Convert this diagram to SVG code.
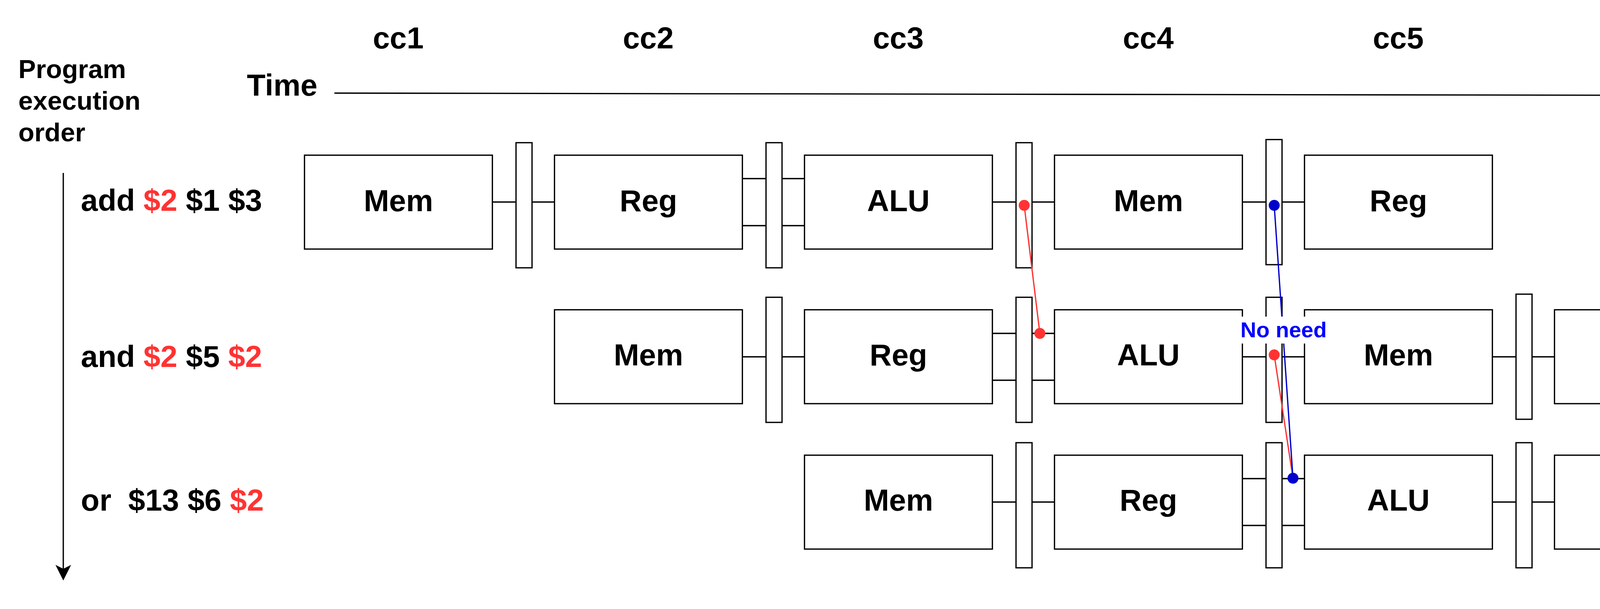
<svg xmlns="http://www.w3.org/2000/svg" width="5156" height="1560" viewBox="0 0 5156 1560">
<style>
text{font-family:"Liberation Sans",Arial,Helvetica,sans-serif;font-weight:bold;fill:#000;stroke:none}
.lbl{font-size:78px}
.box rect{fill:#fff;stroke:#000;stroke-width:3.3}
.box text{text-anchor:middle}
.latch rect{fill:#fff;stroke:#000;stroke-width:3.3}
.wire{stroke:#000;stroke-width:3.3;fill:none}
.red{fill:#FF3333}
.fw-red{stroke:#FF3333;stroke-width:3.3;fill:none}
.fw-blue{stroke:#0000CC;stroke-width:3.3;fill:none}
</style>
<defs>
<marker id="arr" markerUnits="userSpaceOnUse" markerWidth="40" markerHeight="40" viewBox="0 0 36 36" refX="9" refY="18" orient="auto">
<path d="M0,0 L36,18 L0,36 L9,18 Z" fill="#000"/>
</marker>
</defs>
<rect width="5156" height="1560" fill="#fff"/>

<g id="header">
<text class="lbl" x="1019.5" y="124" text-anchor="middle">cc1</text>
<text class="lbl" x="1659.5" y="124" text-anchor="middle">cc2</text>
<text class="lbl" x="2299.5" y="124" text-anchor="middle">cc3</text>
<text class="lbl" x="2939.5" y="124" text-anchor="middle">cc4</text>
<text class="lbl" x="3579.5" y="124" text-anchor="middle">cc5</text>
<text class="lbl" x="4219.5" y="124" text-anchor="middle">cc6</text>
<text class="lbl" x="4859.5" y="124" text-anchor="middle">cc7</text>
<text class="lbl" x="632" y="245">Time</text>
<text x="47" y="200" font-size="67">Program</text>
<text x="47" y="281" font-size="67">execution</text>
<text x="47" y="362" font-size="67">order</text>
</g>

<g id="instructions">
<text class="lbl" x="207" y="540">add <tspan class="red">$2</tspan> $1 $3</text>
<text class="lbl" x="207" y="940">and <tspan class="red">$2</tspan> $5 <tspan class="red">$2</tspan></text>
<text class="lbl" x="207" y="1308" xml:space="preserve">or  $13 $6 <tspan class="red">$2</tspan></text>
</g>

<g id="axes">
<line class="wire" x1="856" y1="238.5" x2="5054" y2="245.5" marker-end="url(#arr)"/>
<line class="wire" x1="162" y1="443" x2="162" y2="1457" marker-end="url(#arr)"/>
</g>

<!-- row 1 -->
<g id="r1-mem" class="box"><rect x="779.5" y="397.5" width="481" height="240.5"/><text class="lbl" x="1020" y="540.5">Mem</text></g>
<g id="r1-reg" class="box"><rect x="1419.5" y="397.5" width="481" height="240.5"/><text class="lbl" x="1660" y="540.5">Reg</text></g>
<g id="r1-alu" class="box"><rect x="2059.5" y="397.5" width="481" height="240.5"/><text class="lbl" x="2300" y="540.5">ALU</text></g>
<g id="r1-mem2" class="box"><rect x="2699.5" y="397.5" width="481" height="240.5"/><text class="lbl" x="2940" y="540.5">Mem</text></g>
<g id="r1-reg2" class="box"><rect x="3339.5" y="397.5" width="481" height="240.5"/><text class="lbl" x="3580" y="540.5">Reg</text></g>
<g id="r1-latch1" class="latch"><rect x="1321" y="365.5" width="41" height="320.5"/></g>
<g id="r1-latch2" class="latch"><rect x="1961" y="365.5" width="41" height="320.5"/></g>
<g id="r1-latch3" class="latch"><rect x="2601" y="365.5" width="41" height="320.5"/></g>
<g id="r1-latch4" class="latch"><rect x="3241" y="357.5" width="41" height="320.5"/></g>

<!-- row 2 -->
<g id="r2-mem" class="box"><rect x="1419.5" y="793.5" width="481" height="240.5"/><text class="lbl" x="1660" y="936">Mem</text></g>
<g id="r2-reg" class="box"><rect x="2059.5" y="793.5" width="481" height="240.5"/><text class="lbl" x="2300" y="936">Reg</text></g>
<g id="r2-alu" class="box"><rect x="2699.5" y="793.5" width="481" height="240.5"/><text class="lbl" x="2940" y="936">ALU</text></g>
<g id="r2-mem2" class="box"><rect x="3339.5" y="793.5" width="481" height="240.5"/><text class="lbl" x="3580" y="936">Mem</text></g>
<g id="r2-reg2" class="box"><rect x="3979.5" y="793.5" width="481" height="240.5"/><text class="lbl" x="4220" y="936">Reg</text></g>
<g id="r2-latch1" class="latch"><rect x="1961" y="761.5" width="41" height="320.5"/></g>
<g id="r2-latch2" class="latch"><rect x="2601" y="761.5" width="41" height="320.5"/></g>
<g id="r2-latch3" class="latch"><rect x="3241" y="761.5" width="41" height="320.5"/></g>
<g id="r2-latch4" class="latch"><rect x="3881" y="753.5" width="41" height="320.5"/></g>

<!-- row 3 -->
<g id="r3-mem" class="box"><rect x="2059.5" y="1166" width="481" height="240.5"/><text class="lbl" x="2300" y="1308">Mem</text></g>
<g id="r3-reg" class="box"><rect x="2699.5" y="1166" width="481" height="240.5"/><text class="lbl" x="2940" y="1308">Reg</text></g>
<g id="r3-alu" class="box"><rect x="3339.5" y="1166" width="481" height="240.5"/><text class="lbl" x="3580" y="1308">ALU</text></g>
<g id="r3-mem2" class="box"><rect x="3979.5" y="1166" width="481" height="240.5"/><text class="lbl" x="4220" y="1308">Mem</text></g>
<g id="r3-reg2" class="box"><rect x="4619.5" y="1166" width="481" height="240.5"/><text class="lbl" x="4860" y="1308">Reg</text></g>
<g id="r3-latch1" class="latch"><rect x="2601" y="1134" width="41" height="320.5"/></g>
<g id="r3-latch2" class="latch"><rect x="3241" y="1134" width="41" height="320.5"/></g>
<g id="r3-latch3" class="latch"><rect x="3881" y="1134" width="41" height="320.5"/></g>
<g id="r3-latch4" class="latch"><rect x="4521" y="1125.5" width="41" height="320.5"/></g>

<g id="connectors">
<g class="wire">
<path d="M1260.5,517.5H1321M1362,517.5H1419.5"/>
<path d="M1900.5,457.5H1961M2002,457.5H2059.5M1900.5,578H1961M2002,578H2059.5"/>
<path d="M2540.5,517.5H2601M2642,517.5H2699.5"/>
<path d="M3180.5,517.5H3241M3282,517.5H3339.5"/>
<path d="M1900.5,914H1961M2002,914H2059.5"/>
<path d="M2540.5,854H2601M2642,854H2699.5M2540.5,974H2601M2642,974H2699.5"/>
<path d="M3180.5,914H3241M3282,914H3339.5"/>
<path d="M3820.5,914H3881M3922,914H3979.5"/>
<path d="M2540.5,1286H2601M2642,1286H2699.5"/>
<path d="M3180.5,1226H3241M3282,1226H3339.5M3180.5,1346H3241M3282,1346H3339.5"/>
<path d="M3820.5,1286H3881M3922,1286H3979.5"/>
<path d="M4460.5,1286H4521M4562,1286H4619.5"/>
</g>
<g id="forward-add-and">
<line class="fw-red" x1="2622" y1="526" x2="2662" y2="854"/>
<circle cx="2622" cy="526" r="14" fill="#FF3333"/>
<circle cx="2662" cy="854" r="14" fill="#FF3333"/>
</g>
<g id="forward-and-or">
<line class="fw-red" x1="3262" y1="909" x2="3310" y2="1225"/>
<circle cx="3262" cy="909" r="14" fill="#FF3333"/>
</g>
<g id="forward-add-or">
<line class="fw-blue" x1="3262" y1="526" x2="3310" y2="1225"/>
<circle cx="3262" cy="526" r="14" fill="#0000CC"/>
<circle cx="3310" cy="1225" r="14" fill="#0000CC"/>
<rect x="3176" y="811" width="221" height="69" fill="#fff"/>
<text x="3286" y="864" font-size="56" text-anchor="middle" style="fill:#0000FF">No need</text>
</g>
</g>
</svg>
